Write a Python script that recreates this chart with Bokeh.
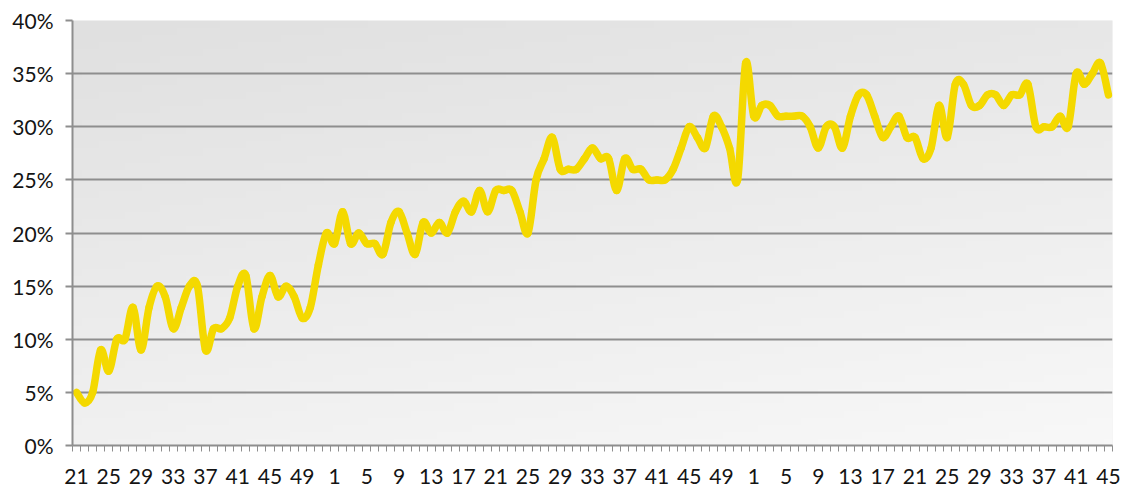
import numpy as np
from bokeh.plotting import figure
from bokeh.models import Range1d, FixedTicker, PrintfTickFormatter, CustomJSTickFormatter
from bokeh.embed import file_html
from bokeh.resources import INLINE

# ---- data ----
weeks = list(range(21, 53)) + list(range(1, 53)) + list(range(1, 46))
values = [5, 4, 5, 9, 7, 10, 10, 13, 9, 13, 15, 14, 11, 13, 15, 15, 9, 11, 11, 12,
          15, 16, 11, 14, 16, 14, 15, 14, 12, 13, 17, 20, 19, 22, 19, 20, 19, 19, 18, 21,
          22, 20, 18, 21, 20, 21, 20, 22, 23, 22, 24, 22, 24, 24, 24, 22, 20, 25, 27, 29,
          26, 26, 26, 27, 28, 27, 27, 24, 27, 26, 26, 25, 25, 25, 26, 28, 30, 29, 28, 31,
          30, 28, 25, 36, 31, 32, 32, 31, 31, 31, 31, 30, 28, 30, 30, 28, 31, 33, 33, 31,
          29, 30, 31, 29, 29, 27, 28, 32, 29, 34, 34, 32, 32, 33, 33, 32, 33, 33, 34, 30,
          30, 30, 31, 30, 35, 34, 35, 36, 33]
y_ticks = [0, 5, 10, 15, 20, 25, 30, 35, 40]

n = len(values)
xs = np.arange(n, dtype=float)
ys = np.array(values, dtype=float)

GRID = "#8e8e8e"
LINE = "#F4D900"
FONT = "Lato"
TXT = "#141414"

p = figure(width=1129, height=486, output_backend="svg", toolbar_location=None,
           x_range=Range1d(-0.5, n - 0.5), y_range=Range1d(y_ticks[0], y_ticks[-1]),
           min_border_left=72, min_border_right=17, min_border_top=20, min_border_bottom=39)
p.outline_line_color = None
p.background_fill_color = "#ebebeb"
p.border_fill_color = "white"

# background gradient (plot-area styling); image row 0 is at the bottom
H, W = 60, 120
gy = np.linspace(0, 1, H)[:, None]
gx = np.linspace(0, 1, W)[None, :]
img = np.zeros((H, W), dtype=np.uint32)
view = img.view(dtype=np.uint8).reshape((H, W, 4))
g = np.broadcast_to((248 - (248 - 224) * (0.7 * gy + 0.3 * (1 - gx))).astype(np.uint8), (H, W))
view[:, :, 0] = g
view[:, :, 1] = g
view[:, :, 2] = g
view[:, :, 3] = 255
r_img = p.image_rgba(image=[img], x=-0.5, y=y_ticks[0], dw=n, dh=y_ticks[-1] - y_ticks[0])
r_img.level = "image"

# smoothed line as cubic bezier segments (Catmull-Rom)
P = np.column_stack([xs, ys])
Pe = np.vstack([P[0], P, P[-1]])
p0 = Pe[1:-2]
p1 = Pe[2:-1]
pm = Pe[0:-3]
pp = Pe[3:]
c0 = p0 + (p1 - pm) / 6.0
c1 = p1 - (pp - p0) / 6.0
p.bezier(x0=p0[:, 0], y0=p0[:, 1], x1=p1[:, 0], y1=p1[:, 1],
         cx0=c0[:, 0], cy0=c0[:, 1], cx1=c1[:, 0], cy1=c1[:, 1],
         line_color=LINE, line_width=7.5, line_cap="round")

# y axis
yt = FixedTicker(ticks=y_ticks)
p.yaxis.ticker = yt
p.yaxis.formatter = PrintfTickFormatter(format="%d%%")
p.yaxis.major_tick_in = 0
p.yaxis.major_tick_out = 7
p.yaxis.minor_tick_line_color = None
p.yaxis.axis_line_color = GRID
p.yaxis.axis_line_width = 2
p.yaxis.major_tick_line_color = GRID
p.yaxis.major_tick_line_width = 2
p.yaxis.major_label_text_font = FONT
p.yaxis.major_label_text_font_size = "21px"
p.yaxis.major_label_text_color = TXT
p.yaxis.major_label_standoff = 12

p.ygrid.ticker = yt
p.ygrid.grid_line_color = GRID
p.ygrid.grid_line_width = 2
p.xgrid.grid_line_color = None

# x axis
label_idx = list(range(0, n, 4))
xt = FixedTicker(ticks=label_idx, minor_ticks=[i - 0.5 for i in range(n + 1)])
p.xaxis.ticker = xt
p.xaxis.formatter = CustomJSTickFormatter(args=dict(labels=weeks),
                                          code="return String(labels[Math.round(tick)]);")
p.xaxis.major_tick_in = 0
p.xaxis.major_tick_out = 0
p.xaxis.minor_tick_in = 0
p.xaxis.minor_tick_out = 6
p.xaxis.minor_tick_line_color = GRID
p.xaxis.minor_tick_line_width = 1
p.xaxis.axis_line_color = GRID
p.xaxis.axis_line_width = 2
p.xaxis.major_label_text_font = FONT
p.xaxis.major_label_text_font_size = "21px"
p.xaxis.major_label_text_color = TXT
p.xaxis.major_label_standoff = 17

open("out.html", "w").write(file_html(p, INLINE))
